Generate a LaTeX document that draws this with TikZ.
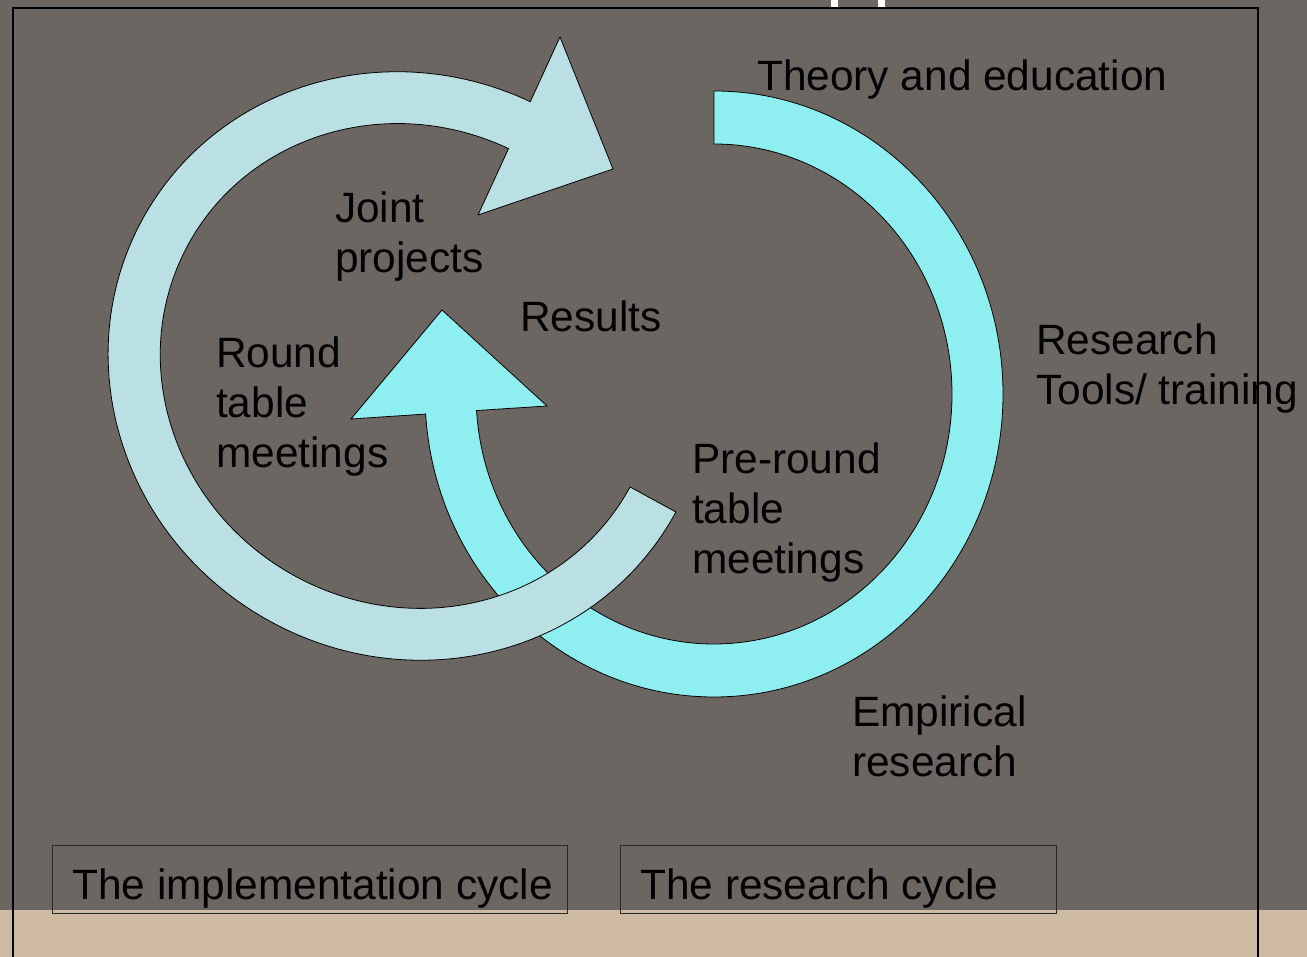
\documentclass[tikz,border=0pt]{standalone}
\usepackage{fontspec}
\setmainfont{Liberation Sans}
\definecolor{bggray}{HTML}{6B6661}
\definecolor{tanstrip}{HTML}{CFBBA4}
\definecolor{lightarr}{HTML}{BBE0E3}
\definecolor{cyanarr}{HTML}{8FEFF0}
\definecolor{boxline}{HTML}{2B2826}
\begin{document}
\begin{tikzpicture}[x=1pt,y=1pt,
  lbl/.style={anchor=base west, inner sep=0pt, align=left, text=black,
              font=\fontsize{42.4}{50}\selectfont},
  arrowshape/.style={draw=black, line width=0.8pt, line join=miter},
  cyclebox/.style={draw=boxline, line width=1pt, fill=none, inner sep=0pt,
                   anchor=south west, minimum height=68pt}]
% canvas and background
\useasboundingbox (0,0) rectangle (1307,957);
\fill[bggray] (0,0) rectangle (1307,957);
\fill[tanstrip] (0,0) rectangle (1307,47);
% fragments of the clipped title
\fill[white] (831,950) rectangle (838,957);
\fill[white] (878,950) rectangle (885,957);
% slide frame
\draw[black, line width=2pt] (13,0) -- (13,949) -- (1258,949) -- (1258,0);

% ---- research cycle (cyan) ----
\coordinate (CAleft) at (351,538);
\coordinate (CAtip) at (442,647);
\coordinate (CAright) at (547,551);
\begin{scope}[shift={(714,563)}]
  \draw[arrowshape, fill=cyanarr]
    (90:289pt and 303pt)
    arc[start angle=90, end angle=-176.2, x radius=289pt, y radius=303pt]
    -- (CAleft) -- (CAtip) -- (CAright)
    -- (-176.2:238pt and 250pt)
    arc[start angle=-176.2, end angle=90, x radius=238pt, y radius=250pt]
    -- cycle;
\end{scope}

% ---- implementation cycle (light blue) ----
\coordinate (LAupper) at (560,920);
\coordinate (LAtip) at (613,788);
\coordinate (LAlower) at (478,742);
\begin{scope}[shift={(409,591)}, rotate=-30.4]
  \draw[arrowshape, fill=lightarr]
    (1.8:304.3pt and 290.7pt)
    arc[start angle=1.8, end angle=-264.5, x radius=304.3pt, y radius=290.7pt]
    -- (LAupper) -- (LAtip) -- (LAlower)
    -- (-264.5:252pt and 239pt)
    arc[start angle=-264.5, end angle=1.8, x radius=252pt, y radius=239pt]
    -- cycle;
\end{scope}

% ---- labels (anchor = baseline of the last line) ----
\node[lbl] (theory) at (757,866) {Theory and education};
\node[lbl] (joint) at (335,684) {Joint\\projects};
\node[lbl] (results) at (520,625) {Results};
\node[lbl] (round) at (216,489) {Round\\table\\meetings};
\node[lbl] (tools) at (1036,552) {Research\\Tools/ training};
\node[lbl] (preround) at (692,383) {Pre-round\\table\\meetings};
\node[lbl] (empirical) at (852,180) {Empirical\\research};

% ---- legend boxes ----
\node[cyclebox, minimum width=515pt] (implbox) at (52,43) {};
\node[lbl] (impltext) at (72,57) {The implementation cycle};
\node[cyclebox, minimum width=436pt] (resbox) at (620,43) {};
\node[lbl] (restext) at (640,57) {The research cycle};
\end{tikzpicture}
\end{document}
